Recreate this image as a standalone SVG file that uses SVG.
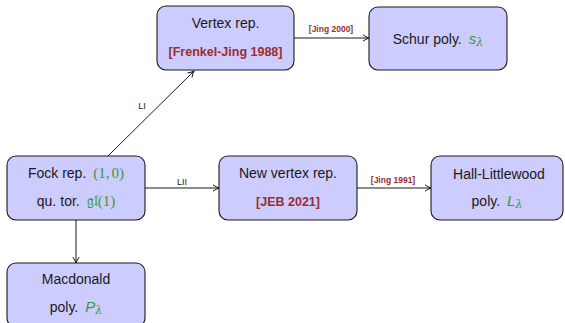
<svg xmlns="http://www.w3.org/2000/svg" width="565" height="323" viewBox="0 0 565 323">
<style>
.box{fill:#ccccff;stroke:#1a1a1a;stroke-width:1.1}
.t{font-family:"Liberation Sans",Arial,sans-serif;font-size:14px;fill:#1a1a1a;text-anchor:middle}
.r{font-family:"Liberation Sans",Arial,sans-serif;font-size:12.5px;font-weight:bold;fill:#9a2d2d;text-anchor:middle}
.g{fill:#3a9a3a}
.ms{font-family:"Liberation Serif","DejaVu Serif",serif;font-size:15px}
.mi{font-family:"Liberation Sans",Arial,sans-serif;font-style:italic;font-size:15px}
.sub{font-family:"DejaVu Serif",serif;font-style:italic;font-size:11px}
.lab{font-family:"Liberation Sans",Arial,sans-serif;font-size:9px;fill:#1a1a1a;text-anchor:middle}
.rl{font-family:"Liberation Sans",Arial,sans-serif;font-size:8.5px;font-weight:bold;fill:#9a2d2d;text-anchor:middle}
.c{stroke:#1a1a1a;stroke-width:1;fill:none}
</style>
<defs>
<marker id="arr" viewBox="0 0 8 8" refX="7" refY="4" markerWidth="8" markerHeight="8" markerUnits="userSpaceOnUse" orient="auto">
<path d="M1,0.8 Q4,3 7,4 Q4,5 1,7.2" fill="none" stroke="#1a1a1a" stroke-width="1"/>
</marker>
</defs>
<g id="connectors">
<line class="c" x1="108" y1="156" x2="194" y2="71" marker-end="url(#arr)"/>
<text class="lab" x="142" y="109">LI</text>
<line class="c" x1="145" y1="188" x2="219" y2="188" marker-end="url(#arr)"/>
<text class="lab" x="182" y="185">LII</text>
<line class="c" x1="294" y1="38" x2="369" y2="38" marker-end="url(#arr)"/>
<text class="rl" x="331" y="32">[Jing 2000]</text>
<line class="c" x1="357" y1="188" x2="431" y2="188" marker-end="url(#arr)"/>
<text class="rl" x="393" y="183">[Jing 1991]</text>
<line class="c" x1="76" y1="220" x2="76" y2="263" marker-end="url(#arr)"/>
</g>
<g id="vertex">
<rect class="box" x="157" y="6" width="137" height="64" rx="9"/>
<text class="t" x="225.5" y="28">Vertex rep.</text>
<text class="r" x="225.5" y="56">[Frenkel-Jing 1988]</text>
</g>
<g id="schur">
<rect class="box" x="369" y="7" width="138" height="63" rx="9"/>
<text class="t" x="438" y="44">Schur poly.<tspan class="g mi" dx="7">s</tspan><tspan class="g sub" dy="2">λ</tspan></text>
</g>
<g id="fock">
<rect class="box" x="7" y="156" width="138" height="64" rx="9"/>
<text class="t" x="76" y="178">Fock rep.<tspan class="g ms" dx="7">(1,<tspan dx="2">0)</tspan></tspan></text>
<text class="t" x="76" y="206">qu.<tspan dx="4">tor.</tspan><tspan class="g ms" dx="7">𝔤𝔩(1)</tspan></text>
</g>
<g id="newvertex">
<rect class="box" x="219" y="156" width="138" height="64" rx="9"/>
<text class="t" x="288" y="178">New vertex rep.</text>
<text class="r" x="288" y="206">[JEB 2021]</text>
</g>
<g id="hall">
<rect class="box" x="431" y="156" width="132" height="64" rx="9"/>
<text class="t" x="499" y="179">Hall-Littlewood</text>
<text class="t" x="497" y="206">poly.<tspan class="g mi" dx="7">L</tspan><tspan class="g sub" dy="2">λ</tspan></text>
</g>
<g id="macdonald">
<rect class="box" x="7" y="263" width="138" height="64" rx="9"/>
<text class="t" x="76" y="284">Macdonald</text>
<text class="t" x="76" y="312">poly.<tspan class="g mi" dx="7">P</tspan><tspan class="g sub" dy="2">λ</tspan></text>
</g>
</svg>
